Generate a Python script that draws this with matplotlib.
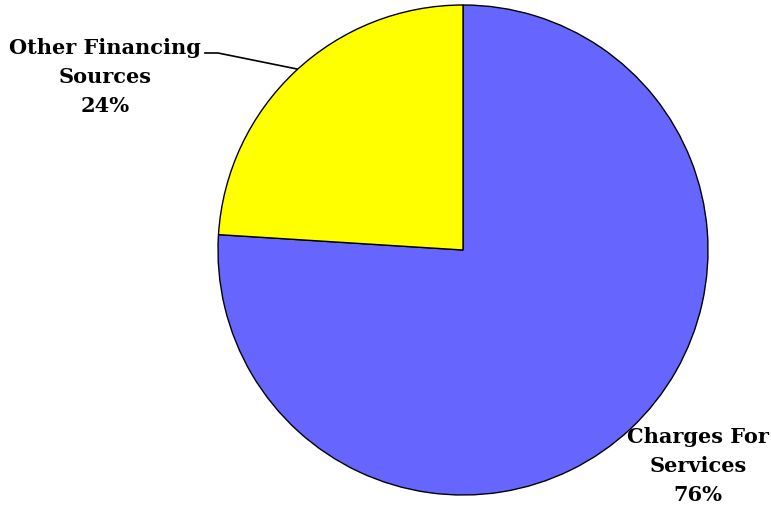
import numpy as np
import matplotlib.pyplot as plt

# revenue sources
categories = ['Charges For\nServices', 'Other Financing\nSources']
values = [76, 24]
colors = ['#6666FF', '#FFFF00']

W, H = 771, 510
cx, cy, R = 463, 251, 245  # pie centre / radius in pixels

fig = plt.figure(figsize=(W / 100, H / 100), dpi=100)
ax = fig.add_axes([0, 0, 1, 1])

ax.pie(values, colors=colors, startangle=90, counterclock=False, radius=1,
       wedgeprops=dict(edgecolor='black', linewidth=1.0))

ax.set_xlim(-cx / R, (W - cx) / R)
ax.set_ylim(-(H - cy) / R, cy / R)
ax.set_aspect('equal')
ax.axis('off')

total = sum(values)
pcts = [f'{round(v / total * 100)}%' for v in values]

def px(x, y):
    return (x - cx) / R, (cy - y) / R

font = dict(family='DejaVu Serif', fontweight='bold', fontsize=15,
            ha='center', va='center', linespacing=1.55)

ax.text(*px(698, 466), categories[0] + '\n' + pcts[0], **font)
ax.text(*px(105, 77), categories[1] + '\n' + pcts[1], **font)

# leader line for the small slice
lx, ly = zip(px(205, 54), px(218, 54), px(297, 70))
ax.plot(lx, ly, color='black', linewidth=1.2)

fig.savefig('out.png', dpi=100)
